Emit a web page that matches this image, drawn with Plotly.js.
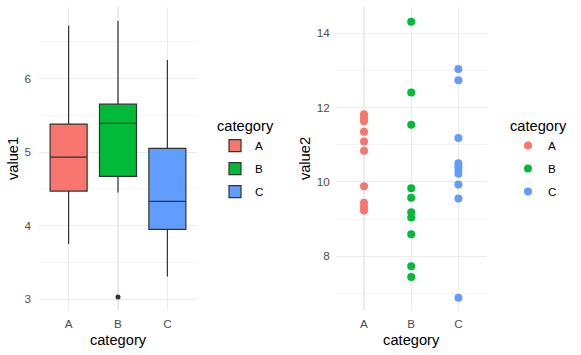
<!DOCTYPE html>
<html>
<head>
<meta charset="utf-8">
<script src="https://cdn.plot.ly/plotly-3.0.1.min.js"></script>
<style>html,body{margin:0;padding:0;background:#fff}#chart{width:581px;height:355px}</style>
</head>
<body>
<div id="chart"></div>
<script>
// ---- data ----
const categories = ['A', 'B', 'C'];
const colors = ['#F8766D', '#00BA38', '#619CFF'];

// value1 box statistics per category
const v1Lower  = [3.75, 4.45, 3.31];
const v1Q1     = [4.47, 4.67, 3.95];
const v1Median = [4.93, 5.39, 4.33];
const v1Q3     = [5.38, 5.65, 5.05];
const v1Upper  = [6.72, 6.78, 6.25];
const v1OutlierCat = ['B'];
const v1OutlierVal = [3.03];

// value2 points per category
const v2A = [11.82, 11.72, 11.63, 11.35, 11.09, 10.84, 9.88, 9.44, 9.33, 9.23];
const v2B = [14.31, 12.41, 11.54, 9.83, 9.57, 9.18, 9.04, 8.59, 7.73, 7.44];
const v2C = [13.04, 12.74, 11.18, 10.50, 10.42, 10.34, 10.22, 9.93, 9.55, 6.88];
const v2 = [v2A, v2B, v2C];

// ---- traces ----
const traces = [];
categories.forEach((c, i) => {
  traces.push({
    type: 'box', name: c, x: [c],
    q1: [v1Q1[i]], median: [v1Median[i]], q3: [v1Q3[i]],
    lowerfence: [v1Lower[i]], upperfence: [v1Upper[i]],
    width: 0.75, whiskerwidth: 0,
    fillcolor: colors[i], line: {color: '#333333', width: 1.2},
    boxpoints: false, xaxis: 'x', yaxis: 'y',
    legend: 'legend', legendgroup: 'b' + c, hoverinfo: 'y'
  });
});
traces.push({
  type: 'scatter', mode: 'markers', x: v1OutlierCat, y: v1OutlierVal,
  marker: {color: '#333333', size: 5}, showlegend: false, xaxis: 'x', yaxis: 'y'
});
categories.forEach((c, i) => {
  traces.push({
    type: 'scatter', mode: 'markers', name: c,
    x: v2[i].map(() => c), y: v2[i],
    marker: {color: colors[i], size: 8},
    xaxis: 'x2', yaxis: 'y2', legend: 'legend2', legendgroup: 's' + c
  });
});

const W = 581, H = 355;
const yDom = [1 - 310 / H, 1 - 7 / H];
const tickFont = {family: 'Liberation Sans, Arial, sans-serif', size: 11.7, color: '#4D4D4D'};
const titleFont = {family: 'Liberation Sans, Arial, sans-serif', size: 14.67, color: '#000000'};
const grid = '#EBEBEB';

function xAx(dom) {
  return {
    domain: dom, type: 'category', categoryarray: categories, categoryorder: 'array',
    range: [-0.6, 2.6], showgrid: true, gridcolor: grid, gridwidth: 1.07,
    zeroline: false, showline: false, ticks: '', tickfont: tickFont,
    ticklabelstandoff: 5,
    title: {text: 'category', font: titleFont, standoff: 6}, automargin: false
  };
}
function yAx(rng, dt, mdt, title, anchor, standoff) {
  return {
    domain: yDom, range: rng, dtick: dt, tick0: 0, anchor: anchor,
    showgrid: true, gridcolor: grid, gridwidth: 1.07,
    minor: {dtick: mdt, tick0: 0, showgrid: true, gridcolor: grid, gridwidth: 0.55, ticks: ''},
    zeroline: false, showline: false, ticks: '', tickfont: tickFont,
    ticklabelstandoff: standoff,
    title: {text: title, font: titleFont, standoff: 2}, automargin: false
  };
}

const legendBase = {
  font: {family: 'Liberation Sans, Arial, sans-serif', size: 11.7, color: '#000000'},
  bgcolor: 'rgba(0,0,0,0)', borderwidth: 0, xanchor: 'left', yanchor: 'top',
  traceorder: 'grouped', tracegroupgap: 4, itemclick: false
};

const layout = {
  width: W, height: H,
  margin: {l: 0, r: 0, t: 0, b: 0},
  paper_bgcolor: '#FFFFFF', plot_bgcolor: 'rgba(0,0,0,0)',
  showlegend: true, boxmode: 'overlay',
  xaxis: xAx([39 / W, 197 / W]),
  yaxis: yAx([2.855, 6.97], 1, 0.5, 'value1', 'x', 7),
  xaxis2: Object.assign(xAx([335.7 / W, 486.7 / W]), {anchor: 'y2'}),
  yaxis2: yAx([6.55, 14.71], 2, 1, 'value2', 'x2', 5),
  legend: Object.assign({}, legendBase, {
    x: 215 / W, y: 1 - 112 / H,
    title: {text: 'category', font: titleFont}
  }),
  legend2: Object.assign({}, legendBase, {
    x: 508 / W, y: 1 - 112 / H,
    title: {text: 'category', font: titleFont}
  })
};

Plotly.newPlot('chart', traces, layout, {staticPlot: true, displayModeBar: false});
</script>
</body>
</html>
